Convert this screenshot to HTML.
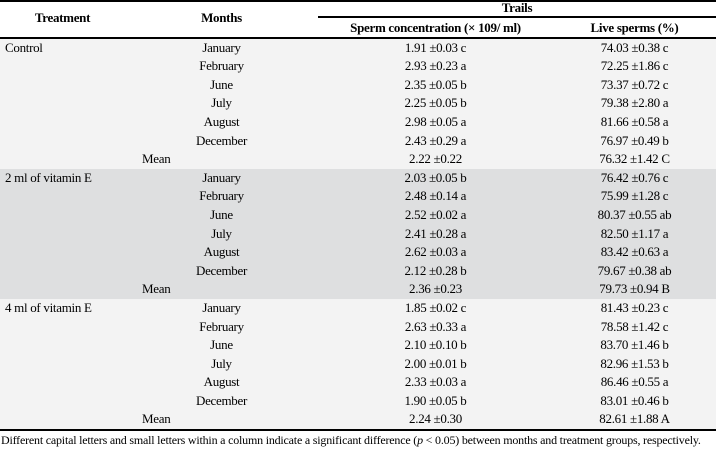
<!DOCTYPE html>
<html><head><style>
body{margin:0;width:716px;height:450px;background:#fff;font-family:"Liberation Serif",serif;overflow:hidden}
.c{position:absolute;left:0;width:716px}
table{border-collapse:collapse;width:716px;table-layout:fixed;font-size:13px;letter-spacing:-0.3px}
td{padding:0;height:18.6px;line-height:18.6px;white-space:nowrap}
.h td{font-weight:bold;text-align:center}
.l{background:#f3f3f3}.d{background:#dedfe0}
td.t{padding-left:5px}
td.m{text-align:center}
</style></head><body>
<div class="c" style="top:0;height:2px;background:#000"></div>
<table style="position:absolute;top:0;left:0">
<colgroup><col style="width:125px"><col style="width:193px"><col style="width:235px"><col style="width:163px"></colgroup>
<tr class="h"><td rowspan="2" style="height:34px">Treatment</td><td rowspan="2">Months</td><td colspan="2" style="border-bottom:2px solid #000;height:16px;line-height:16px">Trails</td></tr>
<tr class="h"><td style="height:17px;line-height:17px">Sperm concentration (× 109/ ml)</td><td style="line-height:17px">Live sperms (%)</td></tr>
<tr class="l" style="border-top:2px solid #000"><td class="t">Control</td><td class="m">January</td><td class="m">1.91 ±0.03 c</td><td class="m">74.03 ±0.38 c</td></tr>
<tr class="l"><td></td><td class="m">February</td><td class="m">2.93 ±0.23 a</td><td class="m">72.25 ±1.86 c</td></tr>
<tr class="l"><td></td><td class="m">June</td><td class="m">2.35 ±0.05 b</td><td class="m">73.37 ±0.72 c</td></tr>
<tr class="l"><td></td><td class="m">July</td><td class="m">2.25 ±0.05 b</td><td class="m">79.38 ±2.80 a</td></tr>
<tr class="l"><td></td><td class="m">August</td><td class="m">2.98 ±0.05 a</td><td class="m">81.66 ±0.58 a</td></tr>
<tr class="l"><td></td><td class="m">December</td><td class="m">2.43 ±0.29 a</td><td class="m">76.97 ±0.49 b</td></tr>
<tr class="l"><td colspan="2" style="padding-left:142px">Mean</td><td class="m">2.22 ±0.22</td><td class="m">76.32 ±1.42 C</td></tr>
<tr class="d"><td class="t">2 ml of vitamin E</td><td class="m">January</td><td class="m">2.03 ±0.05 b</td><td class="m">76.42 ±0.76 c</td></tr>
<tr class="d"><td></td><td class="m">February</td><td class="m">2.48 ±0.14 a</td><td class="m">75.99 ±1.28 c</td></tr>
<tr class="d"><td></td><td class="m">June</td><td class="m">2.52 ±0.02 a</td><td class="m">80.37 ±0.55 ab</td></tr>
<tr class="d"><td></td><td class="m">July</td><td class="m">2.41 ±0.28 a</td><td class="m">82.50 ±1.17 a</td></tr>
<tr class="d"><td></td><td class="m">August</td><td class="m">2.62 ±0.03 a</td><td class="m">83.42 ±0.63 a</td></tr>
<tr class="d"><td></td><td class="m">December</td><td class="m">2.12 ±0.28 b</td><td class="m">79.67 ±0.38 ab</td></tr>
<tr class="d"><td colspan="2" style="padding-left:142px">Mean</td><td class="m">2.36 ±0.23</td><td class="m">79.73 ±0.94 B</td></tr>
<tr class="l"><td class="t">4 ml of vitamin E</td><td class="m">January</td><td class="m">1.85 ±0.02 c</td><td class="m">81.43 ±0.23 c</td></tr>
<tr class="l"><td></td><td class="m">February</td><td class="m">2.63 ±0.33 a</td><td class="m">78.58 ±1.42 c</td></tr>
<tr class="l"><td></td><td class="m">June</td><td class="m">2.10 ±0.10 b</td><td class="m">83.70 ±1.46 b</td></tr>
<tr class="l"><td></td><td class="m">July</td><td class="m">2.00 ±0.01 b</td><td class="m">82.96 ±1.53 b</td></tr>
<tr class="l"><td></td><td class="m">August</td><td class="m">2.33 ±0.03 a</td><td class="m">86.46 ±0.55 a</td></tr>
<tr class="l"><td></td><td class="m">December</td><td class="m">1.90 ±0.05 b</td><td class="m">83.01 ±0.46 b</td></tr>
<tr class="l" style="border-bottom:2px solid #000"><td colspan="2" style="padding-left:142px">Mean</td><td class="m">2.24 ±0.30</td><td class="m">82.61 ±1.88 A</td></tr>
</table>
<div style="position:absolute;top:433px;left:1px;font-size:12px;white-space:nowrap;letter-spacing:-0.2px">Different capital letters and small letters within a column indicate a significant difference (<i>p</i> &lt; 0.05) between months and treatment groups, respectively.</div>
</body></html>
